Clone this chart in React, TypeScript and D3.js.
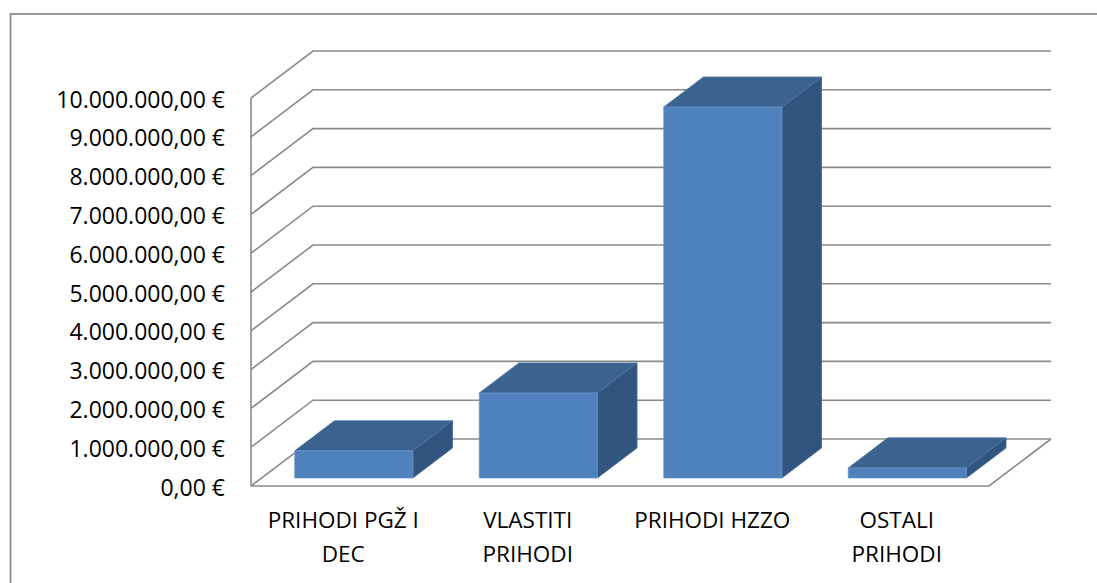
import React from 'react';
import * as d3 from 'd3';

// ————— Data —————
const categories = ['PRIHODI PGŽ I DEC', 'VLASTITI PRIHODI', 'PRIHODI HZZO', 'OSTALI PRIHODI'];
const labelLines = [['PRIHODI PGŽ I', 'DEC'], ['VLASTITI', 'PRIHODI'], ['PRIHODI HZZO'], ['OSTALI', 'PRIHODI']];
const values = [700000, 2190000, 9560000, 260000];
const tickValues = [0, 1000000, 2000000, 3000000, 4000000, 5000000, 6000000, 7000000, 8000000, 9000000, 10000000];
// ————————————————

const W = 1097;
const H = 583;
const FONT = '"Open Sans", sans-serif';

// floor front edge and depth offset of the 3D box
const x0 = 251, x1 = 989;
const yBase = 486, yTop = 98;
const DX = 62, DY = 47;
// bar sits between these depth fractions
const zFront = 0.17, zBack = 0.81;

const euro = d3.formatLocale({
  decimal: ',',
  thousands: '.',
  grouping: [3],
  currency: ['', ' €'],
}).format('$,.2f');

const App = () => {
  const x = d3.scaleBand<string>()
    .domain(categories)
    .range([x0, x1])
    .paddingInner(0.36)
    .paddingOuter(0.18);
  const y = d3.scaleLinear()
    .domain([0, 10000000])
    .range([yBase, yTop]);

  const proj = (px: number, v: number, z: number): [number, number] =>
    [px + z * DX, y(v) - z * DY];
  const poly = (pts: [number, number][]) => pts.map(p => p.join(',')).join(' ');

  const grid = '#8a8a8a';

  return (
    <svg width={W} height={H} style={{ position: 'fixed', left: 0, top: 0, background: '#fff' }}>
      {/* outer chart border */}
      <rect x={10.5} y={14} width={1200} height={700} fill="none" stroke={grid} strokeWidth={1.75} />

      {/* gridlines: side wall diagonal + back wall */}
      {tickValues.map(t => {
        const a = proj(x0, t, 0);
        const b = proj(x0, t, 1);
        const c = proj(x1, t, 1);
        return (
          <polyline key={t} points={poly([a, b, c])} fill="none" stroke={grid} strokeWidth={1.6} />
        );
      })}
      {/* front vertical axis */}
      <line x1={x0} x2={x0} y1={y(0)} y2={y(10000000)} stroke={grid} strokeWidth={1.6} />
      {/* floor front and right edge */}
      <polyline points={poly([proj(x0, 0, 0), proj(x1, 0, 0), proj(x1, 0, 1)])}
        fill="none" stroke={grid} strokeWidth={1.6} />

      {/* tick labels */}
      {tickValues.map(t => (
        <text key={t} x={225} y={y(t) + 9.5} textAnchor="end" fontFamily={FONT} fontSize={23} fill="#000">
          {euro(t)}
        </text>
      ))}

      {/* bars */}
      {categories.map((c, i) => {
        const l = x(c) as number;
        const r = l + x.bandwidth();
        const v = values[i];
        const front = [proj(l, 0, zFront), proj(r, 0, zFront), proj(r, v, zFront), proj(l, v, zFront)];
        const top = [proj(l, v, zFront), proj(r, v, zFront), proj(r, v, zBack), proj(l, v, zBack)];
        const side = [proj(r, 0, zFront), proj(r, 0, zBack), proj(r, v, zBack), proj(r, v, zFront)];
        return (
          <g key={c}>
            <polygon points={poly(side)} fill="#325580" stroke="#3d6593" strokeWidth={0.8} />
            <polygon points={poly(top)} fill="#3c6390" stroke="#4a74a6" strokeWidth={0.8} />
            <polygon points={poly(front)} fill="#4f81bd" stroke="#6b95c8" strokeWidth={0.8} />
          </g>
        );
      })}

      {/* category labels */}
      {categories.map((c, i) => (
        <text key={c} x={(x(c) as number) + x.bandwidth() / 2} y={528} textAnchor="middle"
          fontFamily={FONT} fontSize={22.5} fill="#000">
          {labelLines[i].map((ln, j) => (
            <tspan key={j} x={(x(c) as number) + x.bandwidth() / 2} dy={j === 0 ? 0 : 34}>{ln}</tspan>
          ))}
        </text>
      ))}
    </svg>
  );
};

export default App;
